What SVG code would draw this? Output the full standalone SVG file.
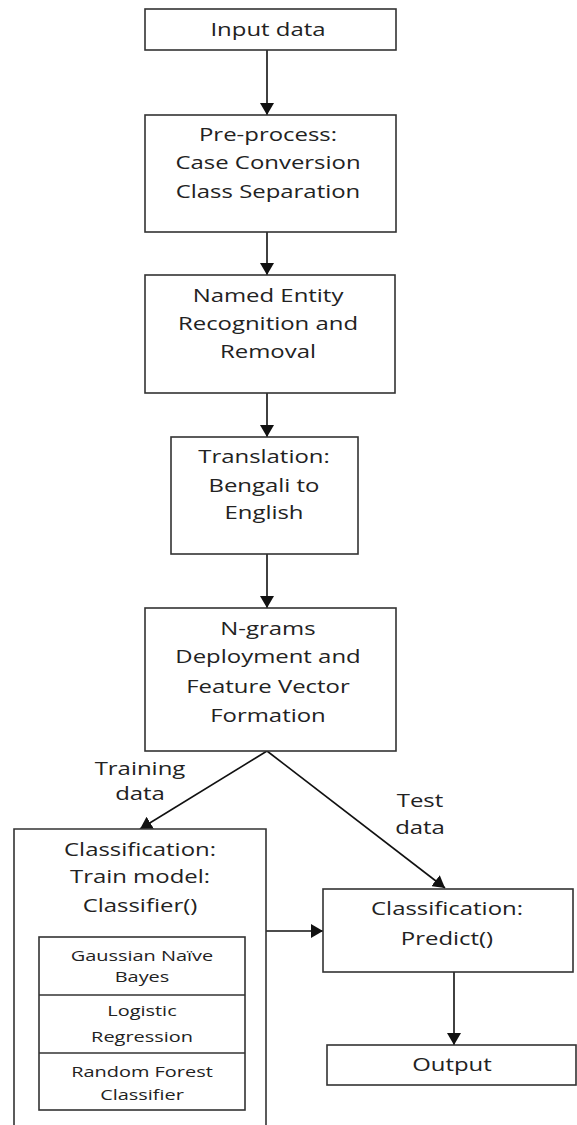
<svg xmlns="http://www.w3.org/2000/svg" width="577" height="1125" viewBox="0 0 577 1125">
<style>
.box{fill:#fff;stroke:#333;stroke-width:1.6}
.ln{fill:none;stroke:#111;stroke-width:1.6}
.t{font-family:"Open Sans","DejaVu Sans",sans-serif;font-size:18px;fill:#222;text-anchor:middle}
.s{font-size:15px}
</style>
<defs>
<marker id="ah" viewBox="0 0 12 14" refX="12" refY="7" markerWidth="12" markerHeight="14" markerUnits="userSpaceOnUse" orient="auto">
<path d="M0,0 L12,7 L0,14 Z" fill="#111"/>
</marker>
</defs>
<rect width="577" height="1125" fill="#fff"/>
<g id="connectors">
<line class="ln" x1="267" y1="50" x2="267" y2="115" marker-end="url(#ah)"/>
<line class="ln" x1="267" y1="232" x2="267" y2="275" marker-end="url(#ah)"/>
<line class="ln" x1="267" y1="393" x2="267" y2="437" marker-end="url(#ah)"/>
<line class="ln" x1="267" y1="554" x2="267" y2="608" marker-end="url(#ah)"/>
<line class="ln" x1="267" y1="751" x2="140" y2="829" marker-end="url(#ah)"/>
<line class="ln" x1="267" y1="751" x2="445" y2="888" marker-end="url(#ah)"/>
<line class="ln" x1="266" y1="931" x2="323" y2="931" marker-end="url(#ah)"/>
<line class="ln" x1="454" y1="972" x2="454" y2="1045" marker-end="url(#ah)"/>
<text class="t" transform="translate(140,0) scale(1.33,1)"><tspan x="0" y="775">Training</tspan><tspan x="0" y="800">data</tspan></text>
<text class="t" transform="translate(420,0) scale(1.33,1)"><tspan x="0" y="807">Test</tspan><tspan x="0" y="834">data</tspan></text>
</g>
<g id="input">
<rect class="box" x="145" y="9" width="251" height="41"/>
<text class="t" transform="translate(268,0) scale(1.33,1)"><tspan x="0" y="36">Input data</tspan></text>
</g>
<g id="preprocess">
<rect class="box" x="145" y="115" width="251" height="117"/>
<text class="t" transform="translate(268,0) scale(1.33,1)"><tspan x="0" y="141">Pre-process:</tspan><tspan x="0" y="169">Case Conversion</tspan><tspan x="0" y="198">Class Separation</tspan></text>
</g>
<g id="ner">
<rect class="box" x="145" y="275" width="250" height="118"/>
<text class="t" transform="translate(268,0) scale(1.33,1)"><tspan x="0" y="302">Named Entity</tspan><tspan x="0" y="330">Recognition and</tspan><tspan x="0" y="358">Removal</tspan></text>
</g>
<g id="translation">
<rect class="box" x="171" y="437" width="187" height="117"/>
<text class="t" transform="translate(264,0) scale(1.33,1)"><tspan x="0" y="463">Translation:</tspan><tspan x="0" y="492">Bengali to</tspan><tspan x="0" y="519">English</tspan></text>
</g>
<g id="ngrams">
<rect class="box" x="145" y="608" width="251" height="143"/>
<text class="t" transform="translate(268,0) scale(1.33,1)"><tspan x="0" y="635">N-grams</tspan><tspan x="0" y="663">Deployment and</tspan><tspan x="0" y="693">Feature Vector</tspan><tspan x="0" y="722">Formation</tspan></text>
</g>
<g id="train">
<path class="box" d="M14,1125 V829 H266 V1125"/>
<text class="t" transform="translate(140,0) scale(1.33,1)"><tspan x="0" y="856">Classification:</tspan><tspan x="0" y="883">Train model:</tspan><tspan x="0" y="912">Classifier()</tspan></text>
</g>
<g id="classifiers">
<rect class="box" x="39" y="937" width="206" height="173"/>
<line class="box" x1="39" y1="995" x2="245" y2="995"/>
<line class="box" x1="39" y1="1053" x2="245" y2="1053"/>
<text class="t s" transform="translate(142,0) scale(1.33,1)"><tspan x="0" y="961">Gaussian Naïve</tspan><tspan x="0" y="982">Bayes</tspan><tspan x="0" y="1016">Logistic</tspan><tspan x="0" y="1042">Regression</tspan><tspan x="0" y="1077">Random Forest</tspan><tspan x="0" y="1100">Classifier</tspan></text>
</g>
<g id="predict">
<rect class="box" x="323" y="889" width="250" height="83"/>
<text class="t" transform="translate(447,0) scale(1.33,1)"><tspan x="0" y="915">Classification:</tspan><tspan x="0" y="945">Predict()</tspan></text>
</g>
<g id="output">
<rect class="box" x="327" y="1045" width="249" height="40"/>
<text class="t" transform="translate(452,0) scale(1.33,1)"><tspan x="0" y="1071">Output</tspan></text>
</g>
</svg>
